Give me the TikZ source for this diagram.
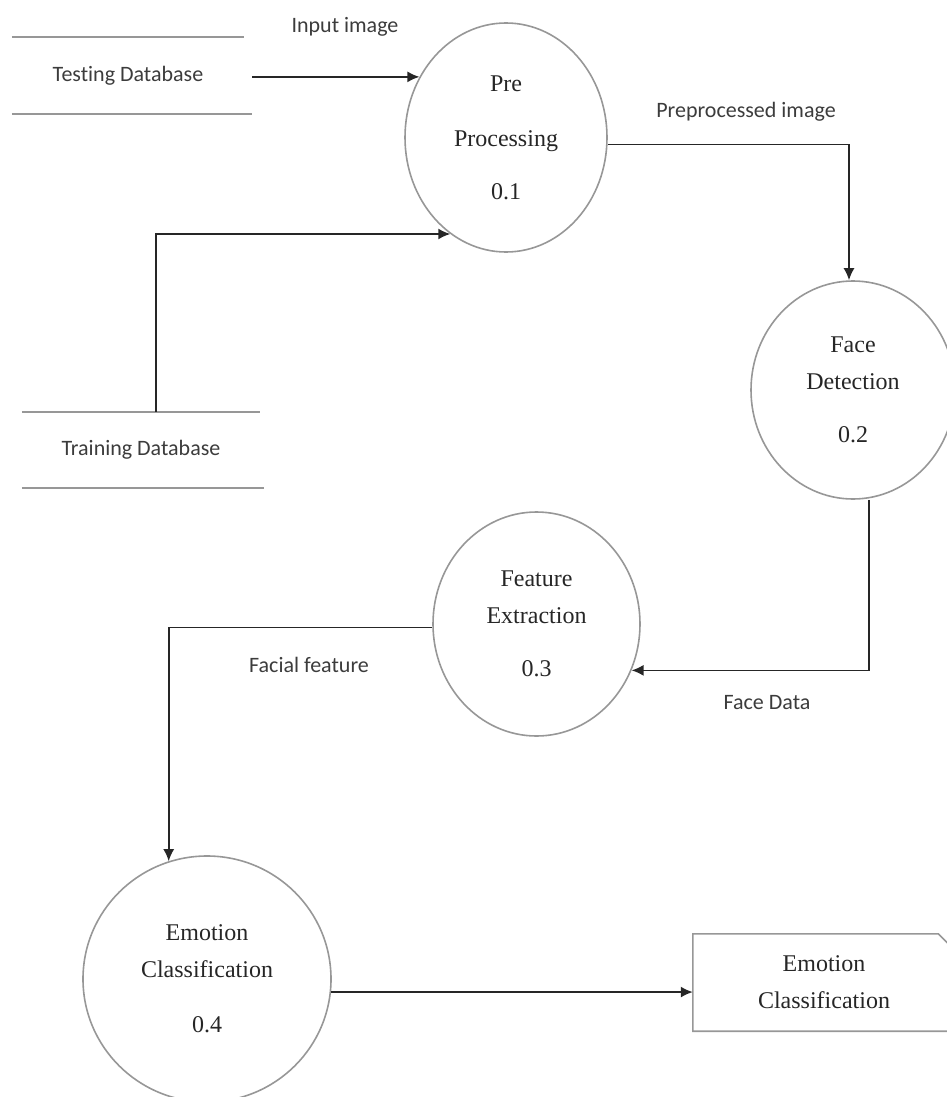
\documentclass[tikz,border=0pt]{standalone}
\usepackage{fontspec}
\setmainfont{Carlito}[Ligatures=NoCommon]
\newfontfamily\procfont{Liberation Serif}
\usetikzlibrary{shapes.geometric,arrows.meta}
\definecolor{shapegray}{HTML}{979797}
\definecolor{flowgray}{HTML}{262626}
\definecolor{textgray}{HTML}{3C3C3C}
\begin{document}
\begin{tikzpicture}[x=1pt, y=-1pt,
    proc/.style={ellipse, draw=shapegray, line width=1.6pt, inner sep=0pt, align=center,
        text=black!85, font=\procfont\fontsize{24}{37}\selectfont},
    outbox/.style={inner sep=0pt, align=center, text=black!85,
        font=\procfont\fontsize{24}{37}\selectfont},
    store/.style={inner sep=0pt, text=textgray, font=\fontsize{22}{26}\selectfont},
    border/.style={draw=shapegray, line width=1.6pt},
    flow/.style={draw=flowgray, line width=1.6pt, -{Latex[length=12pt,width=11pt]}},
    lbl/.style={text=textgray, font=\fontsize{22}{26}\selectfont}]
    \useasboundingbox (0,0) rectangle (947,1097);
    % data stores
    \node(testdb)  at (128,75.5) [store, minimum width=232pt, minimum height=77pt] {Testing Database};
    \node(traindb) at (141,450)  [store, minimum width=238pt, minimum height=76pt] {Training Database};
    \draw[border] (testdb.north west) -- (testdb.north east)
                  (testdb.south west) -- ([xshift=8pt]testdb.south east);
    \draw[border] (traindb.north west) -- (traindb.north east)
                  (traindb.south west) -- ([xshift=4pt]traindb.south east);
    % processes
    \node(pre)  at (506,137.5)  [proc, minimum width=202pt, minimum height=229pt] {Pre\\[18pt]Processing\\[16pt]0.1};
    \node(face) at (853,390)    [proc, minimum width=204pt, minimum height=218pt] {Face\\Detection\\[16pt]0.2};
    \node(feat) at (536.5,624)  [proc, minimum width=207pt, minimum height=224pt] {Feature\\Extraction\\[16pt]0.3};
    \node(emo)  at (207,979)    [proc, minimum width=248pt, minimum height=246pt] {Emotion\\Classification\\[18pt]0.4};
    \node(res)  at (824,982.5)  [outbox, minimum width=262pt, minimum height=97pt] {Emotion\\Classification};
    \draw[border] (res.north west) -- ([xshift=-17pt]res.north east) -- ([yshift=-17pt]res.north east)
                  -- (res.south east) -- (res.south west) -- cycle;
    % flow labels
    \node(inlbl)   at (345,27)  [lbl] {Input image};
    \node(prelbl)  at (746,112) [lbl] {Preprocessed image};
    \node(facelbl) at (767,703) [lbl] {Face Data};
    \node(featlbl) at (309,665) [lbl] {Facial feature};
    % flows
    \draw[flow] ([xshift=8pt]testdb.east |- pre.145) -- (pre.145);
    \draw[flow] ([xshift=15pt]traindb.north) |- (pre.240);
    \draw[flow] (pre.-4) -| ([xshift=-4pt]face.north);
    \draw[flow] ([xshift=16pt]face.south) |- (feat.-26);
    \draw[flow] (feat.182) -| (emo.108);
    \draw[flow] (emo.-6) -- (emo.-6 -| res.west);
\end{tikzpicture}
\end{document}
